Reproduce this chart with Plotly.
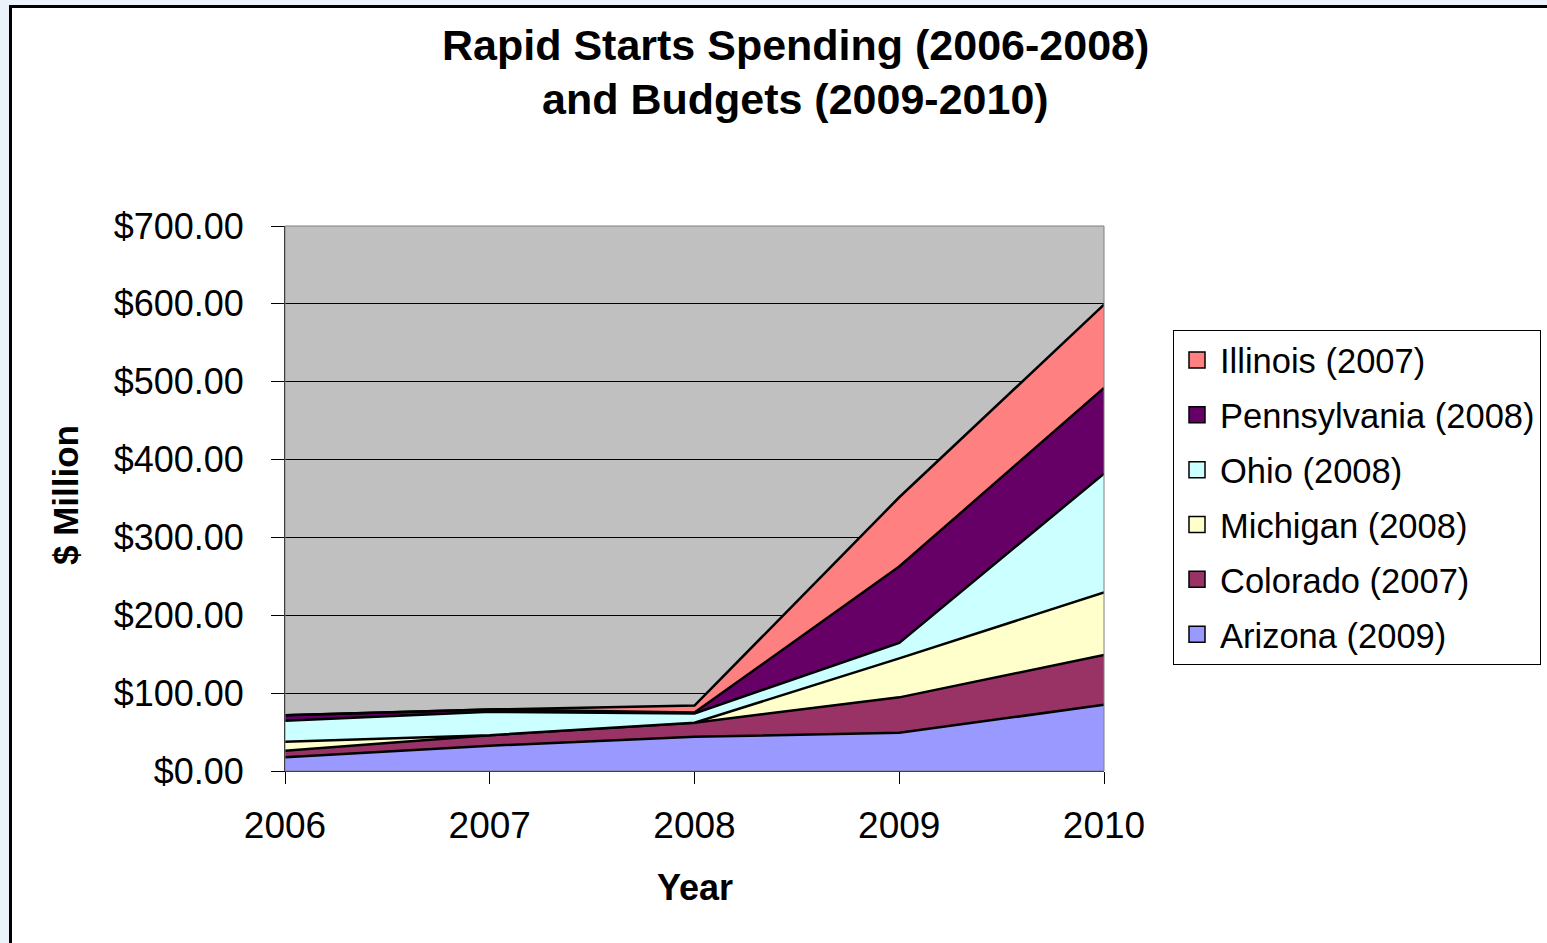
import plotly.graph_objects as go

years = [2006, 2007, 2008, 2009, 2010]
arizona = [17.6, 32.5, 44, 49, 85]
colorado = [8.4, 13.5, 18, 45.6, 64]
michigan = [11.7, 0, 0, 50, 80.5]
ohio = [27, 30, 12, 20, 152.5]
pennsylvania = [7, 3, 1, 98, 110]
illinois = [0, 0, 9, 89, 107]

series = [
    ("Arizona (2009)", arizona, "#9999FF"),
    ("Colorado (2007)", colorado, "#993366"),
    ("Michigan (2008)", michigan, "#FFFFCC"),
    ("Ohio (2008)", ohio, "#CCFFFF"),
    ("Pennsylvania (2008)", pennsylvania, "#660066"),
    ("Illinois (2007)", illinois, "#FF8080"),
]

FONT = "Liberation Sans, Arial, sans-serif"

fig = go.Figure()
for name, vals, col in series:
    fig.add_trace(go.Scatter(
        x=years, y=vals, name=name, mode="lines",
        stackgroup="one", fillcolor=col,
        line=dict(color="black", width=2.5),
        showlegend=False, hoverinfo="x+y+name",
    ))

# legend entries (square swatches), top to bottom
for name, vals, col in reversed(series):
    fig.add_trace(go.Scatter(
        x=[None], y=[None], name=name, mode="markers",
        marker=dict(symbol="square", size=20, color=col,
                    line=dict(color="black", width=1.5)),
        legendgroup=name, showlegend=True,
    ))

W, H = 1547, 943
L, R, T, B = 285, 1104, 226, 771
pw, ph = R - L, B - T

def px_x(p):
    return (p - L) / pw

def px_y(p):
    return (B - p) / ph

fig.update_layout(
    width=W, height=H,
    margin=dict(l=L, r=W - R, t=T, b=H - B, pad=0, autoexpand=False),
    paper_bgcolor="white",
    plot_bgcolor="#C0C0C0",
    font=dict(family=FONT, color="black"),
    showlegend=True,
    legend=dict(
        x=px_x(1173), y=px_y(330), xref="paper", yref="paper",
        xanchor="left", yanchor="top",
        bgcolor="white", bordercolor="black", borderwidth=1,
        font=dict(size=34.5, family=FONT, color="black"),
        traceorder="grouped", tracegroupgap=7,
        itemwidth=36,
    ),
    annotations=[
        dict(text="<b>Rapid Starts Spending (2006-2008)</b>", xref="paper", yref="paper",
             x=px_x(795), y=px_y(45), xanchor="center", yanchor="middle",
             showarrow=False, font=dict(size=43, family=FONT, color="black")),
        dict(text="<b>and Budgets (2009-2010)</b>", xref="paper", yref="paper",
             x=px_x(795), y=px_y(99), xanchor="center", yanchor="middle",
             showarrow=False, font=dict(size=43, family=FONT, color="black")),
        dict(text="<b>Year</b>", xref="paper", yref="paper",
             x=px_x(695), y=px_y(887), xanchor="center", yanchor="middle",
             showarrow=False, font=dict(size=36, family=FONT, color="black")),
        dict(text="<b>$ Million</b>", xref="paper", yref="paper",
             x=px_x(65), y=px_y(495), xanchor="center", yanchor="middle",
             textangle=-90,
             showarrow=False, font=dict(size=35, family=FONT, color="black")),
    ],
    shapes=[
        dict(type="rect", xref="paper", yref="paper",
             x0=px_x(-5), x1=px_x(1600), y0=px_y(6), y1=px_y(-5),
             fillcolor="#EBF2FA", line=dict(width=0), layer="below"),
        dict(type="rect", xref="paper", yref="paper",
             x0=px_x(-5), x1=px_x(9), y0=px_y(1000), y1=px_y(-5),
             fillcolor="#EBF2FA", line=dict(width=0), layer="below"),
        dict(type="line", xref="paper", yref="paper",
             x0=px_x(10), x1=px_x(1600), y0=px_y(6.5), y1=px_y(6.5),
             line=dict(color="black", width=3)),
        dict(type="line", xref="paper", yref="paper",
             x0=px_x(10.5), x1=px_x(10.5), y0=px_y(1000), y1=px_y(5),
             line=dict(color="black", width=3)),
        dict(type="rect", xref="paper", yref="paper",
             x0=0, x1=1, y0=0, y1=1,
             fillcolor="rgba(0,0,0,0)", line=dict(color="#808080", width=1),
             layer="above"),
    ],
)

fig.update_xaxes(
    range=[2006, 2010], tickvals=years, ticktext=[str(y) for y in years],
    ticks="outside", ticklen=12, tickcolor="black", tickwidth=1,
    ticklabelstandoff=10,
    showline=True, linecolor="black", linewidth=1,
    showgrid=False, zeroline=False,
    tickfont=dict(size=37, family=FONT, color="black"),
)
fig.update_yaxes(
    range=[0, 700], tickvals=[0, 100, 200, 300, 400, 500, 600, 700],
    tickformat="$,.2f",
    ticks="outside", ticklen=13, tickcolor="black", tickwidth=1,
    ticklabelstandoff=20,
    showline=True, linecolor="black", linewidth=1,
    showgrid=True, gridcolor="black", gridwidth=1, zeroline=False,
    tickfont=dict(size=36, family=FONT, color="black"),
)

fig.write_html("out.html")
